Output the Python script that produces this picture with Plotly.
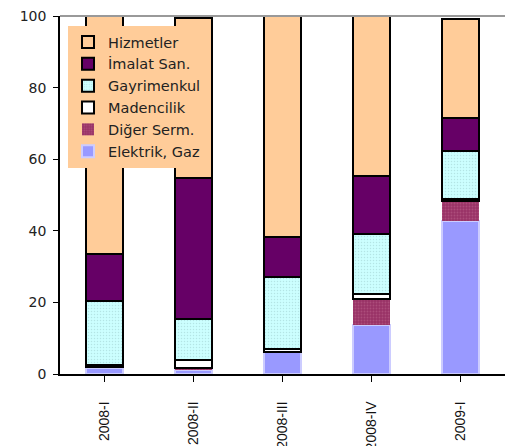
import plotly.graph_objects as go

categories = ["2008-I", "2008-II", "2008-III", "2008-IV", "2009-I"]
elektrik = [1.8, 1.2, 6.2, 13.7, 42.7]
diger = [0.2, 0.6, 0.0, 7.2, 5.6]
madencilik = [0.5, 2.1, 0.7, 1.4, 0.6]
gayrimenkul = [17.9, 11.5, 20.3, 16.7, 13.5]
imalat = [13.0, 39.3, 11.1, 16.3, 9.1]
hizmetler = [66.6, 44.8, 61.7, 44.7, 27.8]
y_ticks = [0, 20, 40, 60, 80, 100]

series = [
    ("Elektrik, Gaz", elektrik, dict(color="#9999FF", line=dict(color="#CCCCFF", width=2))),
    ("Diğer Serm.", diger, dict(color="#993366", line=dict(width=0),
                                  pattern=dict(shape=".", bgcolor="#993366", fgcolor="#C0668F", size=3, solidity=0.3))),
    ("Madencilik", madencilik, dict(color="white", line=dict(color="black", width=2))),
    ("Gayrimenkul", gayrimenkul, dict(color="#CCFFFF", line=dict(color="black", width=2),
                                      pattern=dict(shape=".", bgcolor="#CCFFFF", fgcolor="#99CCCC", size=3, solidity=0.2))),
    ("İmalat San.", imalat, dict(color="#660066", line=dict(color="black", width=2))),
    ("Hizmetler", hizmetler, dict(color="#FFCC99", line=dict(color="black", width=2))),
]

fig = go.Figure()
for name, vals, marker in series:
    fig.add_trace(go.Bar(x=categories, y=vals, name=name, marker=marker, width=0.41))

fig.update_layout(
    width=505, height=446,
    margin=dict(l=60, r=0, t=16, b=72),
    barmode="stack",
    plot_bgcolor="white", paper_bgcolor="white",
    font=dict(family="DejaVu Sans", size=14, color="#222"),
    legend=dict(
        x=0.018, y=0.972, xanchor="left", yanchor="top",
        bgcolor="#FFCC99", traceorder="reversed",
        font=dict(family="DejaVu Sans", size=14.5, color="#222"),
    ),
    xaxis=dict(
        type="category", showline=True, linecolor="black", linewidth=1.5,
        ticks="outside", ticklen=6, tickcolor="black", tickangle=-90,
        tickfont=dict(family="Liberation Sans, Arial", size=14, color="#111"),
        ticklabelstandoff=14, range=[-0.5, 4.5], showgrid=False, automargin=False,
    ),
    xaxis2=dict(
        overlaying="x", anchor="y", side="bottom", range=[-0.5, 4.5],
        tick0=0.5, dtick=1, ticks="outside", ticklen=6, tickcolor="black",
        showticklabels=False, showgrid=False, zeroline=False, showline=False,
    ),
    yaxis=dict(
        range=[0, 100], tickvals=y_ticks, showline=True, linecolor="black", linewidth=1.5,
        ticks="outside", ticklen=5, tickcolor="black", showgrid=False, zeroline=False,
        tickfont=dict(family="DejaVu Sans", size=14, color="#222"), automargin=False,
        ticklabelstandoff=4,
    ),
    shapes=[dict(type="line", xref="paper", yref="paper", x0=0, x1=1, y0=1, y1=1,
                 line=dict(color="#999999", width=2))],
)
fig.write_html("out.html", config={"displayModeBar": False},
               post_script="document.body.style.margin='0';")
